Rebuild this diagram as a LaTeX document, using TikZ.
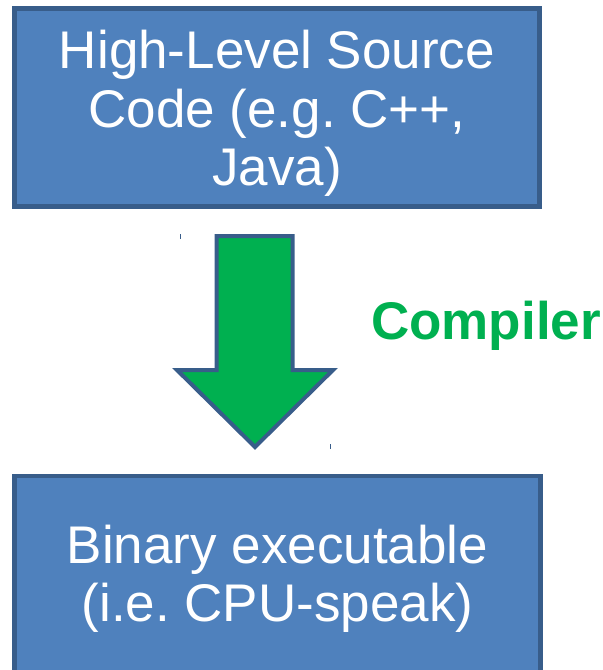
\documentclass[tikz,border=0pt]{standalone}
\usepackage{fontspec}
\setmainfont{Liberation Sans}
\usetikzlibrary{positioning}
\definecolor{boxblue}{RGB}{79,129,189}
\definecolor{edgeblue}{RGB}{56,93,138}
\definecolor{compgreen}{RGB}{0,176,80}

\tikzset{
    codebox/.style={draw=edgeblue, line width=4.5pt, fill=boxblue, inner sep=0pt},
    boxtext/.style={text=white, align=center, font=\fontsize{53}{58.5}\selectfont, inner sep=0pt},
}

\begin{document}
\frenchspacing
\begin{tikzpicture}[x=1pt, y=-1pt]
    \useasboundingbox (0,0) rectangle (603,670);

    % Source code box
    \node[codebox, minimum width=525pt, minimum height=198pt] (source) at (277,107.5) {};
    \node[boxtext, yshift=-6pt] (sourcetext) at (source.center)
        {High-Level Source\\Code (e.g. C++,\\Java)};

    % Binary box (runs off the bottom edge)
    \node[codebox, minimum width=526pt, minimum height=202pt] (binary) at (277.5,577) {};
    \node[boxtext, yshift=-2pt] (binarytext) at (binary.center)
        {Binary executable\\(i.e. CPU-speak)};

    % Block arrow
    \draw[edgeblue, line width=4pt, fill=compgreen, line join=miter]
        (216.5,236) -- (292.5,236) -- (292.5,370) -- (333,370) -- (255,447)
        -- (177,370) -- (216.5,370) -- cycle;

    % Small marks at the arrow's corners
    \draw[edgeblue, line width=1pt] (180,234) -- (180,239);
    \draw[edgeblue, line width=1pt] (330,444) -- (330,449);

    \node[compgreen, font=\fontsize{53}{58}\selectfont\bfseries] (compiler) at (486,326) {Compiler};

\end{tikzpicture}
\end{document}
